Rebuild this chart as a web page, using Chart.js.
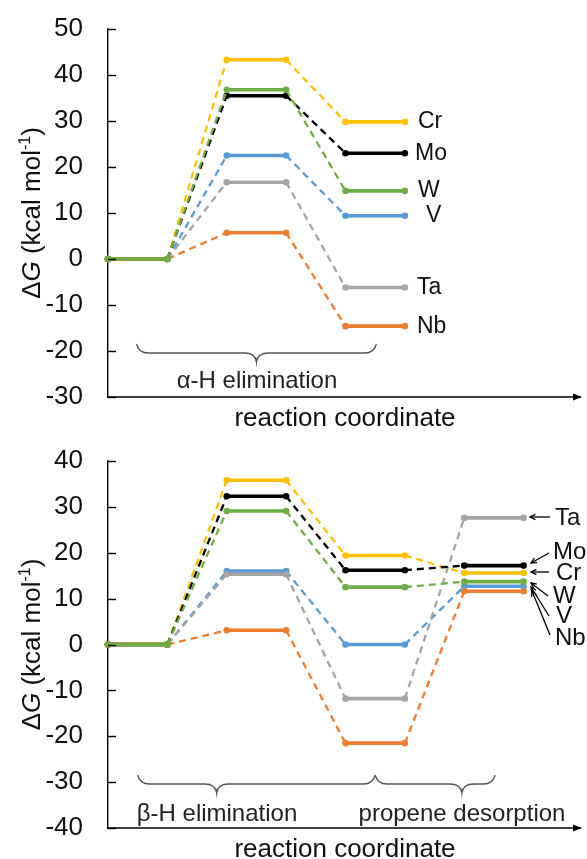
<!DOCTYPE html>
<html><head><meta charset="utf-8">
<script src="https://cdn.jsdelivr.net/npm/chart.js@4.4.1/dist/chart.umd.min.js"></script>
<style>html,body{margin:0;padding:0;background:#fff;}canvas{display:block;}</style>
</head><body>
<canvas id="c1" width="587" height="430"></canvas>
<canvas id="c2" width="587" height="429"></canvas>
<script>
// ---------- DATA ----------
const metals = ['W','Nb','Mo','Cr','Ta','V'];           // draw order (first = on top)

// Top panel: alpha-H elimination (x = level end points)
const xAlpha = [0,1,2,3,4,5];
const alphaCr = [0,0,43.3,43.3,29.8,29.8];
const alphaMo = [0,0,35.5,35.5,23.0,23.0];
const alphaW  = [0,0,36.8,36.8,14.8,14.8];
const alphaV  = [0,0,22.5,22.5,9.4,9.4];
const alphaTa = [0,0,16.7,16.7,-6.2,-6.2];
const alphaNb = [0,0,5.7,5.7,-14.6,-14.6];
const yTicksAlpha = [-30,-20,-10,0,10,20,30,40,50];

// Bottom panel: beta-H elimination + propene desorption
const xBeta = [0,1,2,3,4,5,6,7];
const betaCr = [0,0,35.8,35.8,19.4,19.4,15.6,15.6];
const betaMo = [0,0,32.3,32.3,16.2,16.2,17.2,17.2];
const betaW  = [0,0,29.1,29.1,12.5,12.5,13.7,13.7];
const betaV  = [0,0,16.0,16.0,0.0,0.0,12.7,12.7];
const betaTa = [0,0,15.3,15.3,-11.8,-11.8,27.6,27.6];
const betaNb = [0,0,3.1,3.1,-21.5,-21.5,11.6,11.6];
const yTicksBeta = [-40,-30,-20,-10,0,10,20,30,40];

const stepLabelsAlpha = ['α-H elimination'];
const stepLabelsBeta = ['β-H elimination','propene desorption'];
const xTitle = 'reaction coordinate';

// ---------- STYLE ----------
const FONT = '"Liberation Sans", Arial, sans-serif';
const colors = {Cr:'#FFC000', Mo:'#000000', W:'#70AD47', V:'#5B9BD5', Ta:'#A5A5A5', Nb:'#ED7D31'};
Chart.defaults.font.family = FONT;

function mkDatasets(xs, valuesByMetal) {
  return metals.map(m => ({
    label: m,
    data: xs.map((x,i) => ({x: x, y: valuesByMetal[m][i]})),
    borderColor: colors[m],
    backgroundColor: colors[m],
    pointBackgroundColor: colors[m],
    pointBorderWidth: 0,
    pointRadius: 3.3,
    borderWidth: 3.6,
    tension: 0,
    clip: false,
    segment: {
      borderDash: c => (c.p0DataIndex % 2 ? [7,5] : undefined),
      borderWidth: c => (c.p0DataIndex % 2 ? 2.3 : 3.6)
    }
  }));
}

function drawBrace(ctx, x1, x2, xm, yEnd, h, r) {
  const yl = yEnd + h * 0.5, yt = yEnd + h;
  ctx.beginPath();
  ctx.moveTo(x1, yEnd);
  ctx.quadraticCurveTo(x1 + 2, yl, x1 + r, yl);
  ctx.lineTo(xm - r, yl);
  ctx.quadraticCurveTo(xm - 1, yl, xm, yt);
  ctx.quadraticCurveTo(xm + 1, yl, xm + r, yl);
  ctx.lineTo(x2 - r, yl);
  ctx.quadraticCurveTo(x2 - 2, yl, x2, yEnd);
  ctx.stroke();
}

function drawArrow(ctx, x1, y1, x2, y2) {
  ctx.beginPath(); ctx.moveTo(x1, y1); ctx.lineTo(x2, y2); ctx.stroke();
  const a = Math.atan2(y2 - y1, x2 - x1), L = 6, w = 0.45;
  ctx.beginPath();
  ctx.moveTo(x2 - L*Math.cos(a - w), y2 - L*Math.sin(a - w));
  ctx.lineTo(x2, y2);
  ctx.lineTo(x2 - L*Math.cos(a + w), y2 - L*Math.sin(a + w));
  ctx.stroke();
}

function drawYTitle(ctx, cx, cy) {
  const parts = [
    {t:'Δ', f:'26px ' + FONT, dy:0},
    {t:'G', f:'italic 26px ' + FONT, dy:0},
    {t:' (kcal mol', f:'26px ' + FONT, dy:0},
    {t:'-1', f:'16px ' + FONT, dy:-10},
    {t:')', f:'26px ' + FONT, dy:0}
  ];
  let total = 0;
  parts.forEach(p => { ctx.font = p.f; p.w = ctx.measureText(p.t).width; total += p.w; });
  ctx.save();
  ctx.translate(cx, cy);
  ctx.rotate(-Math.PI/2);
  ctx.fillStyle = '#111';
  ctx.textBaseline = 'alphabetic';
  ctx.textAlign = 'left';
  let x = -total/2;
  parts.forEach(p => { ctx.font = p.f; ctx.fillText(p.t, x, 9.5 + p.dy); x += p.w; });
  ctx.restore();
}

function decoPlugin(cfg) {
  return {
    id: 'deco',
    afterDraw(chart) {
      const ctx = chart.ctx, ca = chart.chartArea, ys = chart.scales.y, xs = chart.scales.x;
      ctx.save();
      // inward tick marks
      ctx.strokeStyle = '#000'; ctx.lineWidth = 1.4;
      ys.ticks.forEach(t => {
        const y = Math.round(ys.getPixelForValue(t.value)) + 0.5;
        ctx.beginPath(); ctx.moveTo(ca.left, y); ctx.lineTo(ca.left + 8, y); ctx.stroke();
      });
      // x axis with arrow
      const yb = ca.bottom;
      ctx.beginPath(); ctx.moveTo(ca.left - 1, yb); ctx.lineTo(ca.right - 2, yb); ctx.stroke();
      ctx.fillStyle = '#000';
      ctx.beginPath(); ctx.moveTo(ca.right - 1, yb); ctx.lineTo(ca.right - 10, yb - 3.5); ctx.lineTo(ca.right - 10, yb + 3.5); ctx.closePath(); ctx.fill();
      // y title
      drawYTitle(ctx, 30, (ca.top + ca.bottom) / 2);
      // x title
      ctx.fillStyle = '#111'; ctx.font = '26px ' + FONT; ctx.textAlign = 'center'; ctx.textBaseline = 'alphabetic';
      ctx.fillText(xTitle, 345, yb + 29);
      // braces and step labels
      ctx.strokeStyle = '#555'; ctx.lineWidth = 1.3;
      cfg.braces.forEach(b => {
        drawBrace(ctx, xs.getPixelForValue(b.from), xs.getPixelForValue(b.to), xs.getPixelForValue(b.tip), yb - 53, 18, 12);
      });
      ctx.fillStyle = '#222'; ctx.font = '24px ' + FONT; ctx.textAlign = 'center';
      cfg.steps.forEach(s => ctx.fillText(s.text, s.x, yb - s.dy));
      // series labels
      ctx.fillStyle = '#111'; ctx.textAlign = 'left'; ctx.textBaseline = 'middle';
      ctx.font = cfg.labelFont + 'px ' + FONT;
      cfg.labels.forEach(l => {
        const y = l.y !== undefined ? l.y : ys.getPixelForValue(l.value);
        ctx.fillText(l.name, l.x, y);
        if (l.arrow) { ctx.strokeStyle = '#000'; ctx.lineWidth = 1.3; drawArrow(ctx, ...l.arrow); }
      });
      ctx.restore();
    }
  };
}

function mkChart(id, xs, vals, yt, xmax, padTop, padBottom, cfg) {
  return new Chart(document.getElementById(id), {
    type: 'line',
    data: { datasets: mkDatasets(xs, vals) },
    options: {
      responsive: false, animation: false, devicePixelRatio: 1,
      layout: { padding: { left: 0, right: 2, top: padTop, bottom: padBottom } },
      plugins: { legend: { display: false }, tooltip: { enabled: false } },
      scales: {
        x: { type: 'linear', min: 0, max: xmax, display: false },
        y: {
          type: 'linear', min: yt[0], max: yt[yt.length - 1],
          afterFit: s => { s.width = 108; s.paddingTop = 0; s.paddingBottom = 0; },
          afterBuildTicks: s => { s.ticks = yt.map(v => ({value: v})); },
          grid: { display: false, drawTicks: false },
          border: { display: true, color: '#000', width: 1.4 },
          ticks: { padding: 25, color: '#111', font: { size: 26, family: FONT } }
        }
      }
    },
    plugins: [decoPlugin(cfg)]
  });
}

mkChart('c1', xAlpha,
  {Cr:alphaCr, Mo:alphaMo, W:alphaW, V:alphaV, Ta:alphaTa, Nb:alphaNb},
  yTicksAlpha, 8, 29, 33,
  {
    braces: [{from:0.48, to:4.52, tip:2.5}],
    steps: [{text: stepLabelsAlpha[0], x: 257, dy: 9}],
    labelFont: 23,
    labels: [
      {name:'Cr', x:418, value: alphaCr[5]},
      {name:'Mo', x:415, value: alphaMo[5]},
      {name:'W',  x:418, value: alphaW[5]},
      {name:'V',  x:426, value: alphaV[5]},
      {name:'Ta', x:417, value: alphaTa[5]},
      {name:'Nb', x:417, value: alphaNb[5]}
    ]
  });

mkChart('c2', xBeta,
  {Cr:betaCr, Mo:betaMo, W:betaW, V:betaV, Ta:betaTa, Nb:betaNb},
  yTicksBeta, 8, 31, 31,
  {
    braces: [{from:0.5, to:4.5, tip:1.83}, {from:4.5, to:6.52, tip:5.96}],
    steps: [{text: stepLabelsBeta[0], x: 217, dy: 7}, {text: stepLabelsBeta[1], x: 462, dy: 7}],
    labelFont: 24,
    labels: [
      {name:'Ta', x:555, y:88,  arrow:[550,87,530,87]},
      {name:'Mo', x:553, y:122, arrow:[549,123,531,133]},
      {name:'Cr', x:556, y:143, arrow:[549,142,531,142]},
      {name:'W',  x:553, y:166, arrow:[548,166,531,153]},
      {name:'V',  x:556, y:186, arrow:[549,186,531,157]},
      {name:'Nb', x:555, y:208, arrow:[550,205,532,161]}
    ]
  });
</script>
</body></html>
